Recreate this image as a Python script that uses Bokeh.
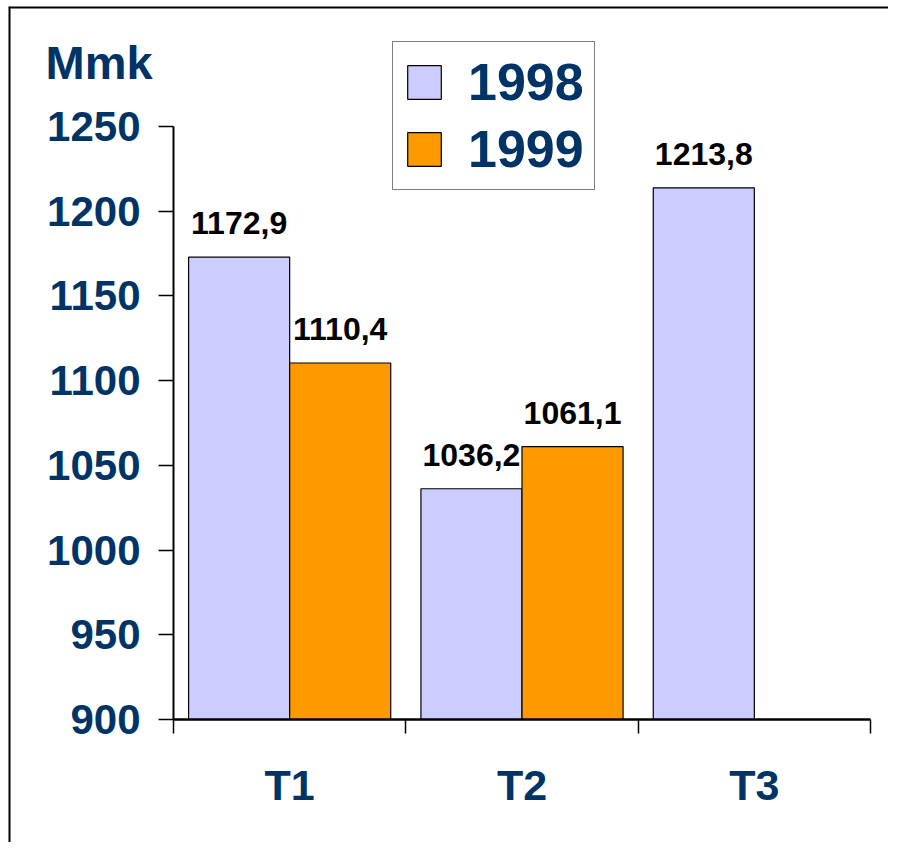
from bokeh.plotting import figure
from bokeh.models import (Range1d, FixedTicker, Label, Legend, LegendItem,
                          ColumnDataSource, LinearAxis, Span)
from bokeh.core.properties import value
from bokeh.embed import file_html
from bokeh.resources import INLINE

# ---- data ----
categories = ["T1", "T2", "T3"]
series_names = ["1998", "1999"]
values_1998 = [1172.9, 1036.2, 1213.8]
values_1999 = [1110.4, 1061.1, None]
y_ticks = [900, 950, 1000, 1050, 1100, 1150, 1200, 1250]
unit_label = "Mmk"

NAVY = "#003366"
FONT = "Liberation Sans"
COL_98 = "#CCCCFF"
COL_99 = "#FF9900"
BAR_W = 0.435
DODGE = 0.2175

# ---- layout (pixels) ----
W, H = 888, 842
FL, FT = 8, 6               # frame left / top (border lines)
AX_X, AX_R = 173, 870       # axis x pixel, last category edge
Y0_PX, Y1_PX = 719, 126     # pixel of 900 and 1250
ymin, ymax = y_ticks[0], y_ticks[-1]
ncat = len(categories)
px_cat = (AX_R - AX_X) / ncat
px_unit = (Y0_PX - Y1_PX) / (ymax - ymin)
x_start = -(AX_X - FL) / px_cat
x_end = ncat + (W - AX_R) / px_cat
y_end = ymin + (Y0_PX - FT) / px_unit
y_start = ymin - (H - Y0_PX) / px_unit

def fmt(v):
    return f"{v:.1f}".replace(".", ",")

centers = [i + 0.5 for i in range(ncat)]

def make_source(vals, shift):
    xs, tops, labels = [], [], []
    for c, v in zip(centers, vals):
        if v is None:
            continue
        xs.append(c + shift)
        tops.append(v)
        labels.append(fmt(v))
    return ColumnDataSource(dict(x=xs, top=tops, label=labels))

src98 = make_source(values_1998, -DODGE)
src99 = make_source(values_1999, DODGE)

p = figure(width=W, height=H,
           x_range=Range1d(x_start, x_end), y_range=Range1d(y_start, y_end),
           x_axis_location=None, y_axis_location=None,
           output_backend="svg", toolbar_location=None,
           min_border_left=FL, min_border_right=0,
           min_border_top=FT, min_border_bottom=0)
p.grid.visible = False
p.outline_line_color = None
p.background_fill_color = "white"
p.border_fill_color = "white"

# border lines (left / top of the chart box)
p.add_layout(Span(location=x_start, dimension="height", line_color="black", line_width=4))
p.add_layout(Span(location=y_end, dimension="width", line_color="black", line_width=4))

r98 = p.vbar(x="x", top="top", bottom=ymin, width=BAR_W, source=src98,
             fill_color=COL_98, line_color="black", line_width=1.2)
r99 = p.vbar(x="x", top="top", bottom=ymin, width=BAR_W, source=src99,
             fill_color=COL_99, line_color="black", line_width=1.2)

for src in (src98, src99):
    p.text(x="x", y="top", text="label", source=src,
           text_align="center", text_baseline="alphabetic", y_offset=-34,
           text_font=value(FONT), text_font_style="bold",
           text_font_size="32px", text_color="black")

# y axis at x = 0
ya = LinearAxis(fixed_location=0, bounds=(ymin, ymax),
                ticker=FixedTicker(ticks=y_ticks))
ya.axis_line_width = 2
ya.axis_line_color = "black"
ya.major_tick_in = 0
ya.major_tick_out = 15
ya.major_tick_line_width = 1.5
ya.minor_tick_line_color = None
ya.major_label_standoff = 18
ya.major_label_text_font = FONT
ya.major_label_text_font_style = "bold"
ya.major_label_text_font_size = "42px"
ya.major_label_text_color = NAVY
p.add_layout(ya, "left")

# x axis at y = 900
xa = LinearAxis(fixed_location=ymin, bounds=(0, ncat),
                ticker=FixedTicker(ticks=centers, minor_ticks=list(range(ncat + 1))))
xa.major_label_overrides = {c: cat for c, cat in zip(centers, categories)}
xa.major_tick_line_color = None
xa.minor_tick_in = 0
xa.minor_tick_out = 14
xa.minor_tick_line_color = "black"
xa.minor_tick_line_width = 1.5
xa.axis_line_width = 2.5
xa.axis_line_color = "black"
xa.major_label_standoff = 27
xa.major_label_text_font = FONT
xa.major_label_text_font_style = "bold"
xa.major_label_text_font_size = "43px"
xa.major_label_text_color = NAVY
p.add_layout(xa, "below")

# unit label
p.add_layout(Label(x=0, y=ymax + 64 / px_unit, x_offset=-128, text=unit_label,
                   text_font=FONT, text_font_style="bold",
                   text_font_size="47px", text_color=NAVY,
                   text_baseline="alphabetic"))

legend = Legend(items=[LegendItem(label=series_names[0], renderers=[r98]),
                       LegendItem(label=series_names[1], renderers=[r99])],
                location=(392 - FL, H - 190), margin=0, padding=10, spacing=7,
                glyph_width=42, glyph_height=42, label_standoff=23,
                border_line_color="black", border_line_width=1.5,
                background_fill_color="white", background_fill_alpha=1,
                label_text_font=FONT, label_text_font_style="bold",
                label_text_font_size="52px", label_text_color=NAVY)
p.add_layout(legend)

open("out.html", "w").write(file_html(p, INLINE))
